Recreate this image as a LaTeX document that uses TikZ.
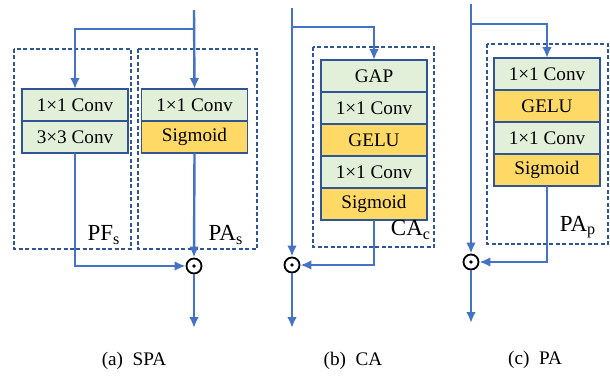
\documentclass[tikz,border=0pt]{standalone}
\usepackage{fontspec}
\setmainfont{Liberation Serif}
\usetikzlibrary{positioning,arrows.meta}
\definecolor{convgreen}{HTML}{E2F0D9}
\definecolor{actyellow}{HTML}{FFD966}
\definecolor{edgeblue}{HTML}{2F5597}
\definecolor{flowblue}{HTML}{4472C4}
\tikzset{%
  >={Latex[length=5.5pt,width=4.8pt]},
  layer/.style={draw=edgeblue,line width=0.8pt,minimum width=53pt,
    minimum height=16pt,inner sep=0pt,outer sep=0pt,
    font=\fontsize{9.6}{11}\selectfont},
  conv/.style={layer,fill=convgreen},
  act/.style={layer,fill=actyellow},
  group/.style={draw=edgeblue,line width=0.6pt,dash pattern=on 2pt off 1.2pt},
  flow/.style={draw=flowblue,line width=1.2pt,->},
  odot/.style={circle,draw=black,line width=0.9pt,minimum size=7.5pt,
    inner sep=0pt,path picture={\fill (path picture bounding box.center) circle (0.9pt);}},
  tag/.style={font=\fontsize{11.5}{13}\selectfont,inner sep=0pt},
  caption/.style={font=\fontsize{9.6}{11}\selectfont,inner sep=0pt}
}
\begin{document}
\begin{tikzpicture}[x=0.5pt,y=-0.5pt]
	\useasboundingbox (0,0) rectangle (610,376);
	
	%% (a) SPA
	\draw[group] (14,49) rectangle (131,249);
	\draw[group] (138,49) rectangle (257,249);
	\node[conv] (pfa) at (75,105) {1×1 Conv};
	\node[conv,below=0pt of pfa] (pfb) {3×3 Conv};
	\node[conv] (paa) at (194.5,105) {1×1 Conv};
	\node[act,below=0pt of paa] (pab) {Sigmoid};
	\node[odot] (mula) at (194,266) {};
	\coordinate (ina) at (194,10);
	\coordinate (bra) at (194,29);
	\coordinate (outa) at (194,328);
	\draw[flow] (ina) -- (paa.north);
	\draw[flow] (bra) -| (pfa.north);
	\draw[flow] (pab.south) -- (mula.north);
	\draw[flow] (pfb.south) |- (mula.west);
	\draw[flow] (mula.south) -- (outa);
	\node[tag] (pfs) at (104,235) {PF\textsubscript{s}};
	\node[tag] (pas) at (226,235) {PA\textsubscript{s}};
	\node[caption] (capa) at (134,361) {(a)\ \ SPA};
	
	%% (b) CA
	\draw[group] (313,47) rectangle (434,247);
	\node[conv] (gap) at (374,76) {GAP};
	\node[conv,below=0pt of gap] (cb1) {1×1 Conv};
	\node[act,below=0pt of cb1] (gelb) {GELU};
	\node[conv,below=0pt of gelb] (cb2) {1×1 Conv};
	\node[act,below=0pt of cb2] (sigb) {Sigmoid};
	\node[odot] (mulb) at (292,265) {};
	\coordinate (inb) at (292,8);
	\coordinate (brb) at (292,27);
	\coordinate (outb) at (292,328);
	\draw[flow] (inb) -- (mulb.north);
	\draw[flow] (brb) -| (gap.north);
	\draw[flow] (sigb.south) |- (mulb.east);
	\draw[flow] (mulb.south) -- (outb);
	\node[tag] (cac) at (411,230) {CA\textsubscript{c}};
	\node[caption] (capb) at (353,361) {(b)\ \ CA};
	
	%% (c) PA
	\draw[group] (487,44) rectangle (608,244);
	\node[conv] (pc1) at (547,74) {1×1 Conv};
	\node[act,below=0pt of pc1] (gelc) {GELU};
	\node[conv,below=0pt of gelc] (pc2) {1×1 Conv};
	\node[act,below=0pt of pc2] (sigc) {Sigmoid};
	\node[odot] (mulc) at (471,262) {};
	\coordinate (inc) at (471,4);
	\coordinate (brc) at (471,24);
	\coordinate (outc) at (471,323);
	\draw[flow] (inc) -- (mulc.north);
	\draw[flow] (brc) -| (pc1.north);
	\draw[flow] (sigc.south) |- (mulc.east);
	\draw[flow] (mulc.south) -- (outc);
	\node[tag] (pap) at (578,227) {PA\textsubscript{p}};
	\node[caption] (capc) at (535,360) {(c)\ \ PA};
\end{tikzpicture}
\end{document}
